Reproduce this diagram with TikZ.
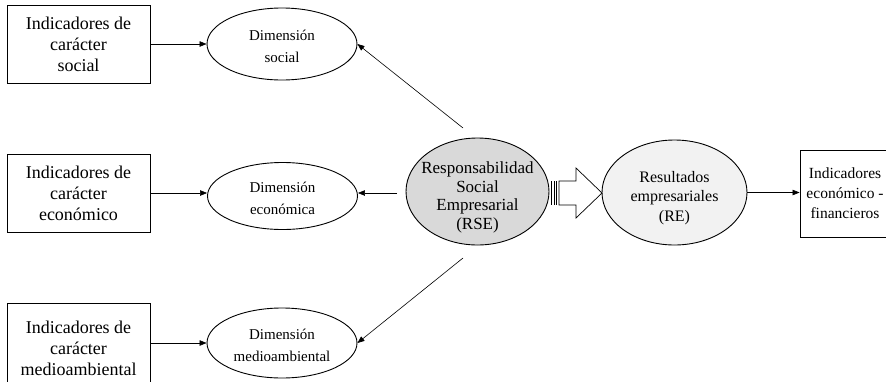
\documentclass[tikz,border=0pt]{standalone}
\usepackage{fontspec}
\setmainfont{Liberation Serif}
\usetikzlibrary{shapes.geometric,arrows.meta}
\begin{document}
\begin{tikzpicture}[x=1pt,y=-1pt,
  indbox/.style={draw, line width=0.9pt, minimum width=143pt, minimum height=78pt, inner sep=0pt, align=center, font=\fontsize{18}{21}\selectfont},
  dimell/.style={draw, ellipse, line width=0.9pt, minimum width=150pt, minimum height=70pt, inner sep=0pt},
  dimtext/.style={font=\fontsize{15}{21.5}\selectfont, align=center, inner sep=0pt, yshift=-2.5pt},
  bigell/.style={draw, ellipse, line width=0.9pt, inner sep=0pt},
  rsetext/.style={font=\fontsize{17}{18.5}\selectfont, align=center, inner sep=0pt, yshift=-6pt},
  retext/.style={font=\fontsize{16}{19.2}\selectfont, align=center, inner sep=0pt, yshift=-5.5pt},
  conn/.style={line width=0.6pt, -{Triangle[length=7pt,width=5.5pt]}},
  blockarrow/.style={line width=0.7pt, fill=white},
]
\useasboundingbox (0,0) rectangle (886,381);
\clip (0,0) rectangle (886,381);
\fill[white] (0,0) rectangle (886,381);

% left boxes
\node[indbox] (b1) at (78.5,44) {Indicadores de\\carácter\\social};
\node[indbox] (b2) at (78.5,193) {Indicadores de\\carácter\\económico};
\node[indbox, minimum height=90pt] (b3) at (78.5,348) {Indicadores de\\carácter\\medioambiental};

% dimension ellipses
\node[dimell, minimum height=72pt, label={[dimtext]center:Dimensión\\social}] (e1) at (282,44) {};
\node[dimell, minimum height=67pt, label={[dimtext]center:Dimensión\\económica}] (e2) at (282.5,196) {};
\node[dimell, label={[dimtext]center:Dimensión\\medioambiental}] (e3) at (282,343) {};

% central ellipses
\node[bigell, fill=black!15, minimum width=143pt, minimum height=107pt, label={[rsetext]center:Responsabilidad\\Social\\Empresarial\\(RSE)}] (rse) at (477.5,191.5) {};
\node[bigell, fill=black!5, minimum width=145pt, minimum height=105pt, label={[retext]center:Resultados\\empresariales\\(RE)}] (re) at (674.5,192.5) {};

% right box
\node[draw, line width=0.9pt, minimum width=90pt, minimum height=87pt, inner sep=0pt, align=center, font=\fontsize{15.5}{20}\selectfont] (rb) at (845,193.5) {Indicadores\\económico -\\financieros};

% free starting points of RSE connectors
\coordinate (c1) at (463,128);
\coordinate (c2) at (397,193);
\coordinate (c3) at (463,258);

% connectors
\draw[conn] (b1) -- (e1);
\draw[conn] (b2.east) -- (b2.east -| e2.west);
\draw[conn] (b3.east |- e3.west) -- (e3.west);
\draw[conn] (c1) -- (e1.east);
\draw[conn] (c2) -- (c2 -| e2.east);
\draw[conn] (c3) -- (e3.east);
\draw[conn] (re.east) -- (re.east -| rb.west);

% striped block arrow
\draw[blockarrow] (559,181) -- (576,181) -- (576,168) -- (602,193) -- (576,218) -- (576,205) -- (559,205) -- cycle;
\draw[line width=0.8pt] (551.5,181) -- (551.5,205) (554,181) -- (554,205) (556.5,181) -- (556.5,205);
\end{tikzpicture}
\end{document}
